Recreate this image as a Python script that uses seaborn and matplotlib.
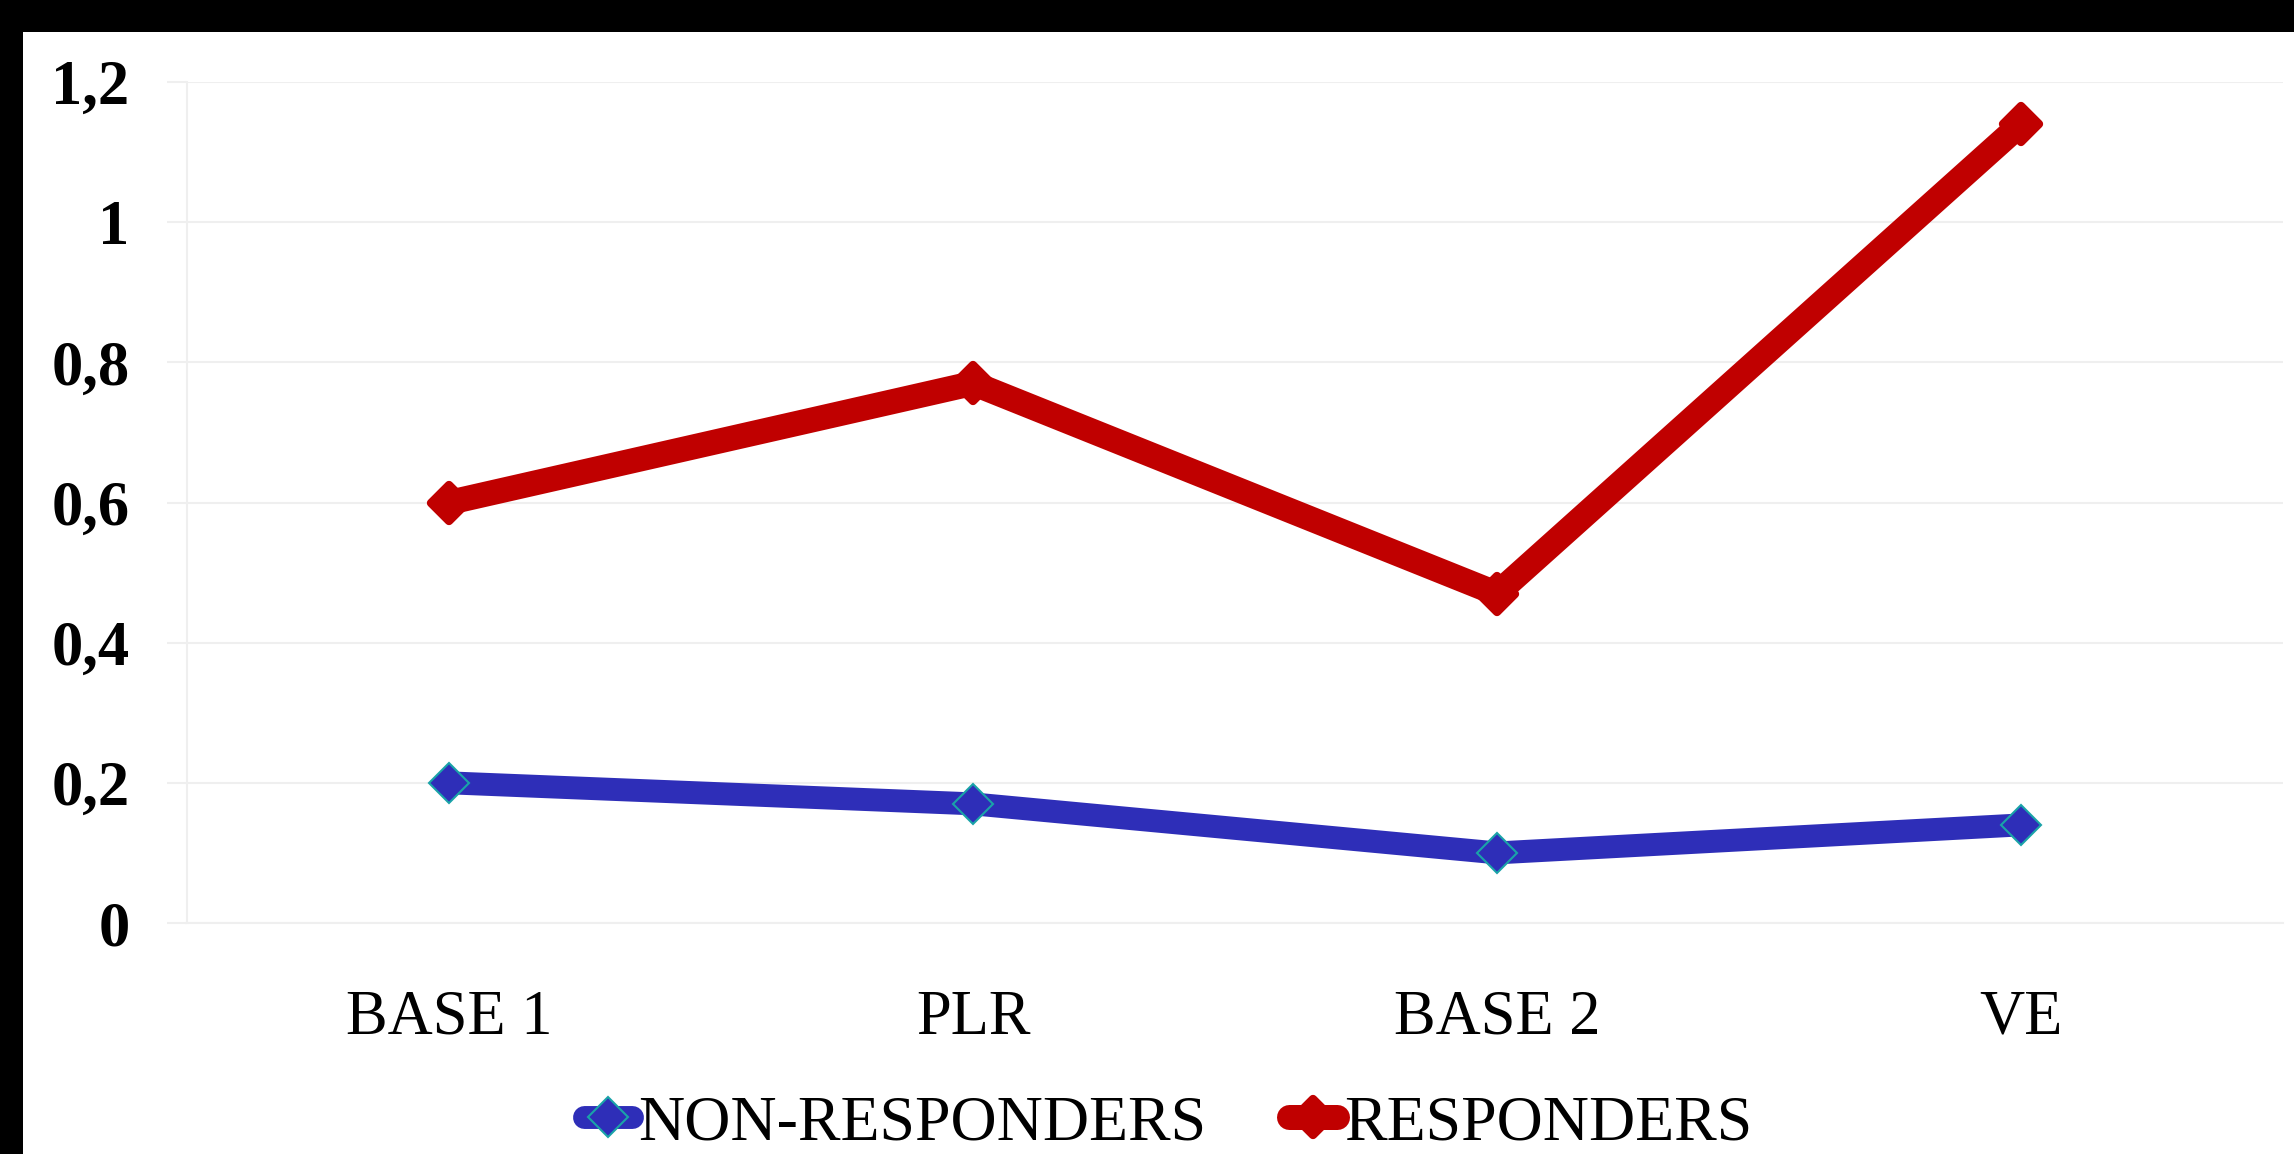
import matplotlib
matplotlib.use("Agg")
import matplotlib.pyplot as plt
from matplotlib.patches import Rectangle
from matplotlib.markers import MarkerStyle
from matplotlib.ticker import FuncFormatter
import pandas as pd
import seaborn as sns

# Measurement stages and group means
stages = ["BASE 1", "PLR", "BASE 2", "VE"]
non_responders = [0.20, 0.17, 0.10, 0.14]
responders = [0.60, 0.77, 0.47, 1.14]
groups = ["NON-RESPONDERS", "RESPONDERS"]
y_ticks = [0, 0.2, 0.4, 0.6, 0.8, 1.0, 1.2]

colors = {"NON-RESPONDERS": "#2E2EB8", "RESPONDERS": "#C00000"}
grid_color = "#EFEFEF"

df = pd.DataFrame({
    "stage": stages * 2,
    "value": non_responders + responders,
    "group": [groups[0]] * len(stages) + [groups[1]] * len(stages),
})

sns.set_style("white")
plt.rcParams["font.family"] = ["Liberation Serif", "DejaVu Serif"]
plt.rcParams["text.color"] = "black"

W, H = 2294, 1154
fig = plt.figure(figsize=(W / 100, H / 100), dpi=100, facecolor="white")
# dark frame strips along the top and left edges
fig.patches.append(Rectangle((0, 1 - 32 / H), 1, 32 / H, transform=fig.transFigure,
                             facecolor="black", edgecolor="none", zorder=-1))
fig.patches.append(Rectangle((0, 0), 23 / W, 1, transform=fig.transFigure,
                             facecolor="black", edgecolor="none", zorder=-1))

ax = fig.add_axes([187 / W, 1 - 923 / H, (2283 - 187) / W, (923 - 82) / H])
ax.set_facecolor("white")

sns.lineplot(data=df, x="stage", y="value", hue="group", hue_order=groups,
             palette=colors, sort=False, errorbar=None, legend=False, ax=ax)

l_non, l_res = ax.lines[0], ax.lines[1]
l_non.set(linewidth=16.5, color=colors["NON-RESPONDERS"], marker="D", markersize=20,
          markerfacecolor=colors["NON-RESPONDERS"], markeredgecolor="#1AA3A8",
          markeredgewidth=1.5, solid_capstyle="round", zorder=3)
l_res.set(linewidth=18, color=colors["RESPONDERS"],
          marker=MarkerStyle("D", joinstyle="round"), markersize=18,
          markerfacecolor=colors["RESPONDERS"], markeredgecolor=colors["RESPONDERS"],
          markeredgewidth=6, solid_capstyle="round", zorder=4)

ax.set_xlim(-0.5, len(stages) - 0.5)
ax.set_ylim(0, 1.2)
ax.set_yticks(y_ticks)
ax.yaxis.set_major_formatter(FuncFormatter(lambda v, p: ("%g" % round(v, 2)).replace(".", ",")))
ax.yaxis.grid(True, color=grid_color, linewidth=1.5)
ax.xaxis.grid(False)
ax.set_xticks(range(len(stages)))
ax.set_xticklabels(stages)
ax.set_xticks([i - 0.5 for i in range(len(stages) + 1)], minor=True)

ax.tick_params(axis="x", which="major", length=0, pad=48, labelsize=45, labelcolor="black")
ax.tick_params(axis="x", which="minor", length=9, width=1.5, color=grid_color, direction="out")
ax.tick_params(axis="y", length=14.4, width=1.5, color=grid_color, pad=27,
               labelsize=45, labelcolor="black", direction="out", left=True)
for lbl in ax.get_yticklabels():
    lbl.set_fontweight("bold")

for side in ("top", "right"):
    ax.spines[side].set_visible(False)
for side in ("left", "bottom"):
    ax.spines[side].set_color(grid_color)
    ax.spines[side].set_linewidth(1.5)

ax.set_xlabel("")
ax.set_ylabel("")

fig.legend(handles=[l_non, l_res], labels=groups, loc="center",
           bbox_to_anchor=(1168 / W, 1 - 1124 / H), ncol=2, frameon=False,
           fontsize=46, handlelength=0.75, handletextpad=0.1, columnspacing=1.3,
           numpoints=1, borderaxespad=0, borderpad=0, labelcolor="black")

fig.savefig("out.png", dpi=100, facecolor=fig.get_facecolor())
